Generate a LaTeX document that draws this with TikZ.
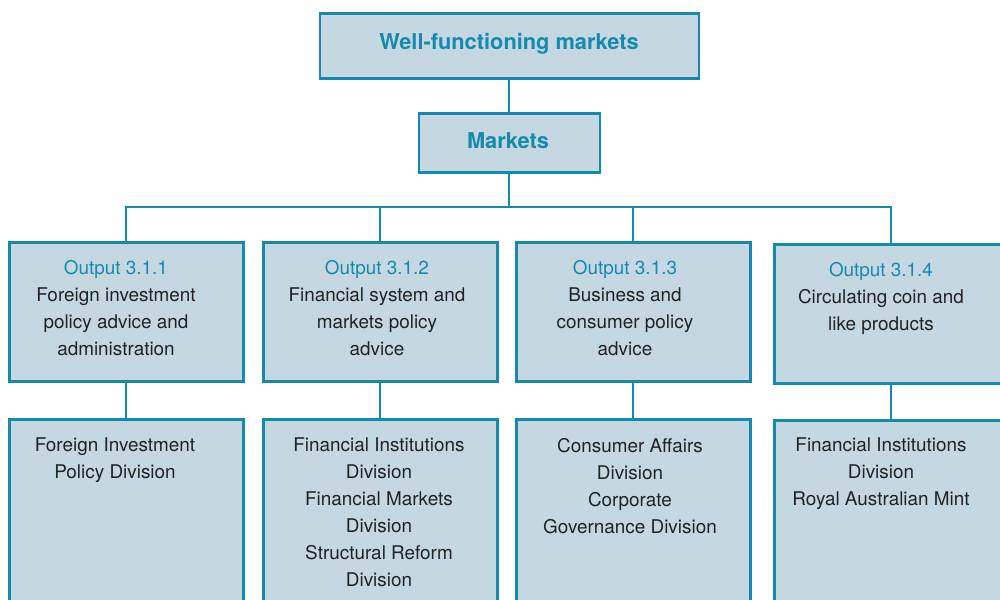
\documentclass[tikz,border=0pt]{standalone}
\usepackage{fontspec}
\setmainfont{TeX Gyre Heros}
\definecolor{boxfill}{RGB}{197,216,226}
\definecolor{boxline}{RGB}{22,138,174}
\definecolor{headtext}{RGB}{22,138,174}
\definecolor{bodytext}{RGB}{34,34,34}
\begin{document}
\begin{tikzpicture}[x=1pt,y=-1pt,
  box/.style={draw=boxline,fill=boxfill,line width=2.6pt,inner sep=0pt,anchor=north west},
  link/.style={draw=boxline,line width=2pt},
  title/.style={text=headtext,font=\bfseries\fontsize{21.8}{25}\selectfont,inner sep=0pt},
  label/.style={text=bodytext,font=\fontsize{18.9}{27}\selectfont,align=center,inner sep=0pt,anchor=north},
  head/.style={text=headtext}]
\useasboundingbox (0,0) rectangle (1000,599);
\clip (0,0) rectangle (1000,599);

% top levels
\node[box,minimum width=379pt,minimum height=65pt] (wf) at (318.5,12) {};
\node[title] (wft) at (509,44) {Well-functioning markets};
\node[box,minimum width=181pt,minimum height=59pt] (mk) at (417.5,112) {};
\node[title] (mkt) at (508,141) {Markets};

% output boxes
\node[box,minimum width=234pt,minimum height=139pt] (o1) at (8,241) {};
\node[box,minimum width=234pt,minimum height=139pt] (o2) at (262,241) {};
\node[box,minimum width=234pt,minimum height=139pt] (o3) at (515,241) {};
\node[box,minimum width=234pt,minimum height=139pt] (o4) at (773,243) {};

% division boxes (run past the lower edge)
\node[box,minimum width=234pt,minimum height=220pt] (d1) at (8,418) {};
\node[box,minimum width=234pt,minimum height=220pt] (d2) at (262,418) {};
\node[box,minimum width=234pt,minimum height=220pt] (d3) at (515,418) {};
\node[box,minimum width=234pt,minimum height=220pt] (d4) at (773,419) {};

% connectors
\coordinate (bus) at ([yshift=-33pt]mk.south);
\draw[link] (wf.south) -- (wf.south |- mk.north);
\draw[link] (mk.south) -- (bus);
\draw[link] (o1.north) |- (bus) -| (o4.north);
\draw[link] (o2.north) -- (o2.north |- bus);
\draw[link] (o3.north) -- (o3.north |- bus);
\draw[link] (o1.south) -- (d1.north);
\draw[link] (o2.south) -- (d2.north);
\draw[link] (o3.south) -- (d3.north);
\draw[link] (o4.south) -- (d4.north);

% output texts
\node[label] (o1t) at (116,260) {{\color{headtext}Output 3.1.1}\\Foreign investment\\policy advice and\\administration};
\node[label] (o2t) at (377,260) {{\color{headtext}Output 3.1.2}\\Financial system and\\markets policy\\advice};
\node[label] (o3t) at (625,260) {{\color{headtext}Output 3.1.3}\\Business and\\consumer policy\\advice};
\node[label] (o4t) at (881,262) {{\color{headtext}Output 3.1.4}\\Circulating coin and\\like products};

% division texts
\node[label] (d1t) at (115,438) {Foreign Investment\\Policy Division};
\node[label] (d2t) at (379,438) {Financial Institutions\\Division\\Financial Markets\\Division\\Structural Reform\\Division};
\node[label] (d3t) at (630,438) {Consumer Affairs\\Division\\Corporate\\Governance Division};
\node[label] (d4t) at (881,438) {Financial Institutions\\Division\\Royal Australian Mint};
\end{tikzpicture}
\end{document}
